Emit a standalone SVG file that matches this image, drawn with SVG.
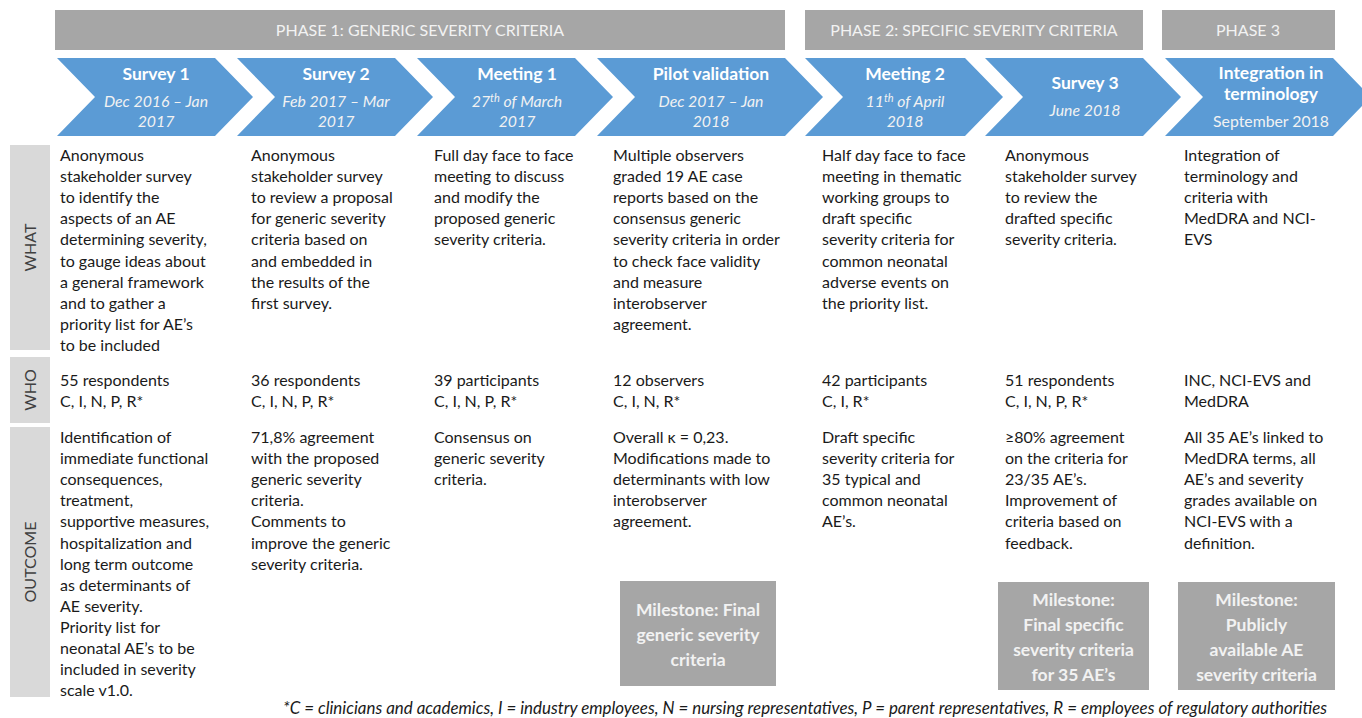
<svg xmlns="http://www.w3.org/2000/svg" width="1362" height="718" viewBox="0 0 1362 718">
<style>
.phase{fill:#a6a6a6}
.phtxt{font-family:Lato,"Open Sans",sans-serif;font-size:16px;fill:#f2f2f2;text-anchor:middle}
.chev{fill:#5b9bd5}
.ct{font-family:Lato,"Open Sans",sans-serif;font-size:17.5px;font-weight:bold;fill:#ffffff;text-anchor:middle}
.cd{font-family:Lato,"Open Sans",sans-serif;font-size:15.8px;font-style:italic;fill:#f2f2f2;text-anchor:middle}
.cdn{font-family:Lato,"Open Sans",sans-serif;font-size:15.8px;fill:#f2f2f2;text-anchor:middle}
.lab{fill:#d9d9d9}
.labt{font-family:Lato,"Open Sans",sans-serif;font-size:16px;fill:#404040;text-anchor:middle}
.body{font-family:Lato,"Open Sans",sans-serif;font-size:16px;fill:#1a1a1a}
.ms{fill:#a6a6a6}
.mst{font-family:Lato,"Open Sans",sans-serif;font-size:17.5px;font-weight:bold;fill:#f2f2f2;text-anchor:middle}
.foot{font-family:Lato,"Open Sans",sans-serif;font-size:16.5px;font-style:italic;fill:#1a1a1a}
</style>
<rect width="1362" height="718" fill="#ffffff"/>

<g id="phases">
<g id="phase1"><rect class="phase" x="55" y="10" width="730" height="40"/><text class="phtxt" x="420" y="36">PHASE 1: GENERIC SEVERITY CRITERIA</text></g>
<g id="phase2"><rect class="phase" x="805" y="10" width="338" height="40"/><text class="phtxt" x="974" y="36">PHASE 2: SPECIFIC SEVERITY CRITERIA</text></g>
<g id="phase3"><rect class="phase" x="1162" y="10" width="173" height="40"/><text class="phtxt" x="1248" y="36">PHASE 3</text></g>
</g>

<g id="connectors"></g>

<g id="step1">
<polygon class="chev" points="57,58 215,58 253,97 215,136 57,136 95,97"/>
<text class="ct" x="156" y="80">Survey 1</text>
<text class="cd" x="156" y="107">Dec 2016 – Jan</text>
<text class="cd" x="156" y="127">2017</text>
</g>
<g id="step2">
<polygon class="chev" points="237,58 395,58 433,97 395,136 237,136 275,97"/>
<text class="ct" x="336" y="80">Survey 2</text>
<text class="cd" x="336" y="107">Feb 2017 – Mar</text>
<text class="cd" x="336" y="127">2017</text>
</g>
<g id="step3">
<polygon class="chev" points="417,58 575,58 613,97 575,136 417,136 455,97"/>
<text class="ct" x="517" y="80">Meeting 1</text>
<text class="cd" x="517" y="107">27<tspan font-size="11" dy="-5">th</tspan><tspan dy="5"> of March</tspan></text>
<text class="cd" x="517" y="127">2017</text>
</g>
<g id="step4">
<polygon class="chev" points="597,58 785,58 823,97 785,136 597,136 635,97"/>
<text class="ct" x="711" y="80">Pilot validation</text>
<text class="cd" x="711" y="107">Dec 2017 – Jan</text>
<text class="cd" x="711" y="127">2018</text>
</g>
<g id="step5">
<polygon class="chev" points="805,58 965,58 1003,97 965,136 805,136 843,97"/>
<text class="ct" x="905" y="80">Meeting 2</text>
<text class="cd" x="905" y="107">11<tspan font-size="11" dy="-5">th</tspan><tspan dy="5"> of April</tspan></text>
<text class="cd" x="905" y="127">2018</text>
</g>
<g id="step6">
<polygon class="chev" points="985,58 1143,58 1181,97 1143,136 985,136 1023,97"/>
<text class="ct" x="1085" y="89">Survey 3</text>
<text class="cd" x="1085" y="116">June 2018</text>
</g>
<g id="step7">
<polygon class="chev" points="1165,58 1333,58 1362,88 1362,106 1333,136 1165,136 1203,97"/>
<text class="ct" x="1271" y="79">Integration in</text>
<text class="ct" x="1271" y="100">terminology</text>
<text class="cdn" x="1271" y="127">September 2018</text>
</g>

<g id="labels">
<g id="label-what"><rect class="lab" x="10" y="145" width="40" height="205"/><text class="labt" transform="translate(36,247.5) rotate(-90)">WHAT</text></g>
<g id="label-who"><rect class="lab" x="10" y="357" width="40" height="66"/><text class="labt" transform="translate(36,390) rotate(-90)">WHO</text></g>
<g id="label-outcome"><rect class="lab" x="10" y="427" width="40" height="270"/><text class="labt" transform="translate(36,562) rotate(-90)">OUTCOME</text></g>
</g>

<g id="col1">
<text class="body" x="60" y="161"><tspan x="60" dy="0">Anonymous</tspan><tspan x="60" dy="21.1">stakeholder survey</tspan><tspan x="60" dy="21.1">to identify the</tspan><tspan x="60" dy="21.1">aspects of an AE</tspan><tspan x="60" dy="21.1">determining severity,</tspan><tspan x="60" dy="21.1">to gauge ideas about</tspan><tspan x="60" dy="21.1">a general framework</tspan><tspan x="60" dy="21.1">and to gather a</tspan><tspan x="60" dy="21.1">priority list for AE’s</tspan><tspan x="60" dy="21.1">to be included</tspan></text>
<text class="body" x="60" y="386"><tspan x="60" dy="0">55 respondents</tspan><tspan x="60" dy="21.1">C, I, N, P, R*</tspan></text>
<text class="body" x="60" y="443"><tspan x="60" dy="0">Identification of</tspan><tspan x="60" dy="21.1">immediate functional</tspan><tspan x="60" dy="21.1">consequences,</tspan><tspan x="60" dy="21.1">treatment,</tspan><tspan x="60" dy="21.1">supportive measures,</tspan><tspan x="60" dy="21.1">hospitalization and</tspan><tspan x="60" dy="21.1">long term outcome</tspan><tspan x="60" dy="21.1">as determinants of</tspan><tspan x="60" dy="21.1">AE severity.</tspan><tspan x="60" dy="21.1">Priority list for</tspan><tspan x="60" dy="21.1">neonatal AE’s to be</tspan><tspan x="60" dy="21.1">included in severity</tspan><tspan x="60" dy="21.1">scale v1.0.</tspan></text>
</g>

<g id="col2">
<text class="body" x="251" y="161"><tspan x="251" dy="0">Anonymous</tspan><tspan x="251" dy="21.1">stakeholder survey</tspan><tspan x="251" dy="21.1">to review a proposal</tspan><tspan x="251" dy="21.1">for generic severity</tspan><tspan x="251" dy="21.1">criteria based on</tspan><tspan x="251" dy="21.1">and embedded in</tspan><tspan x="251" dy="21.1">the results of the</tspan><tspan x="251" dy="21.1">first survey.</tspan></text>
<text class="body" x="251" y="386"><tspan x="251" dy="0">36 respondents</tspan><tspan x="251" dy="21.1">C, I, N, P, R*</tspan></text>
<text class="body" x="251" y="443"><tspan x="251" dy="0">71,8% agreement</tspan><tspan x="251" dy="21.1">with the proposed</tspan><tspan x="251" dy="21.1">generic severity</tspan><tspan x="251" dy="21.1">criteria.</tspan><tspan x="251" dy="21.1">Comments to</tspan><tspan x="251" dy="21.1">improve the generic</tspan><tspan x="251" dy="21.1">severity criteria.</tspan></text>
</g>

<g id="col3">
<text class="body" x="434" y="161"><tspan x="434" dy="0">Full day face to face</tspan><tspan x="434" dy="21.1">meeting to discuss</tspan><tspan x="434" dy="21.1">and modify the</tspan><tspan x="434" dy="21.1">proposed generic</tspan><tspan x="434" dy="21.1">severity criteria.</tspan></text>
<text class="body" x="434" y="386"><tspan x="434" dy="0">39 participants</tspan><tspan x="434" dy="21.1">C, I, N, P, R*</tspan></text>
<text class="body" x="434" y="443"><tspan x="434" dy="0">Consensus on</tspan><tspan x="434" dy="21.1">generic severity</tspan><tspan x="434" dy="21.1">criteria.</tspan></text>
</g>

<g id="col4">
<text class="body" x="613" y="161"><tspan x="613" dy="0">Multiple observers</tspan><tspan x="613" dy="21.1">graded 19 AE case</tspan><tspan x="613" dy="21.1">reports based on the</tspan><tspan x="613" dy="21.1">consensus generic</tspan><tspan x="613" dy="21.1">severity criteria in order</tspan><tspan x="613" dy="21.1">to check face validity</tspan><tspan x="613" dy="21.1">and measure</tspan><tspan x="613" dy="21.1">interobserver</tspan><tspan x="613" dy="21.1">agreement.</tspan></text>
<text class="body" x="613" y="386"><tspan x="613" dy="0">12 observers</tspan><tspan x="613" dy="21.1">C, I, N, R*</tspan></text>
<text class="body" x="613" y="443"><tspan x="613" dy="0">Overall κ = 0,23.</tspan><tspan x="613" dy="21.1">Modifications made to</tspan><tspan x="613" dy="21.1">determinants with low</tspan><tspan x="613" dy="21.1">interobserver</tspan><tspan x="613" dy="21.1">agreement.</tspan></text>
</g>

<g id="col5">
<text class="body" x="822" y="161"><tspan x="822" dy="0">Half day face to face</tspan><tspan x="822" dy="21.1">meeting in thematic</tspan><tspan x="822" dy="21.1">working groups to</tspan><tspan x="822" dy="21.1">draft specific</tspan><tspan x="822" dy="21.1">severity criteria for</tspan><tspan x="822" dy="21.1">common neonatal</tspan><tspan x="822" dy="21.1">adverse events on</tspan><tspan x="822" dy="21.1">the priority list.</tspan></text>
<text class="body" x="822" y="386"><tspan x="822" dy="0">42 participants</tspan><tspan x="822" dy="21.1">C, I, R*</tspan></text>
<text class="body" x="822" y="443"><tspan x="822" dy="0">Draft specific</tspan><tspan x="822" dy="21.1">severity criteria for</tspan><tspan x="822" dy="21.1">35 typical and</tspan><tspan x="822" dy="21.1">common neonatal</tspan><tspan x="822" dy="21.1">AE’s.</tspan></text>
</g>

<g id="col6">
<text class="body" x="1005" y="161"><tspan x="1005" dy="0">Anonymous</tspan><tspan x="1005" dy="21.1">stakeholder survey</tspan><tspan x="1005" dy="21.1">to review the</tspan><tspan x="1005" dy="21.1">drafted specific</tspan><tspan x="1005" dy="21.1">severity criteria.</tspan></text>
<text class="body" x="1005" y="386"><tspan x="1005" dy="0">51 respondents</tspan><tspan x="1005" dy="21.1">C, I, N, P, R*</tspan></text>
<text class="body" x="1005" y="443"><tspan x="1005" dy="0">≥80% agreement</tspan><tspan x="1005" dy="21.1">on the criteria for</tspan><tspan x="1005" dy="21.1">23/35 AE’s.</tspan><tspan x="1005" dy="21.1">Improvement of</tspan><tspan x="1005" dy="21.1">criteria based on</tspan><tspan x="1005" dy="21.1">feedback.</tspan></text>
</g>

<g id="col7">
<text class="body" x="1184" y="161"><tspan x="1184" dy="0">Integration of</tspan><tspan x="1184" dy="21.1">terminology and</tspan><tspan x="1184" dy="21.1">criteria with</tspan><tspan x="1184" dy="21.1">MedDRA and NCI-</tspan><tspan x="1184" dy="21.1">EVS</tspan></text>
<text class="body" x="1184" y="386"><tspan x="1184" dy="0">INC, NCI-EVS and</tspan><tspan x="1184" dy="21.1">MedDRA</tspan></text>
<text class="body" x="1184" y="443"><tspan x="1184" dy="0">All 35 AE’s linked to</tspan><tspan x="1184" dy="21.1">MedDRA terms, all</tspan><tspan x="1184" dy="21.1">AE’s and severity</tspan><tspan x="1184" dy="21.1">grades available on</tspan><tspan x="1184" dy="21.1">NCI-EVS with a</tspan><tspan x="1184" dy="21.1">definition.</tspan></text>
</g>

<g id="milestone1">
<rect class="ms" x="620" y="581" width="156" height="105"/>
<text class="mst" x="698" y="616">Milestone: Final</text>
<text class="mst" x="698" y="641">generic severity</text>
<text class="mst" x="698" y="666">criteria</text>
</g>
<g id="milestone2">
<rect class="ms" x="998" y="582" width="151" height="108"/>
<text class="mst" x="1073.5" y="606">Milestone:</text>
<text class="mst" x="1073.5" y="631">Final specific</text>
<text class="mst" x="1073.5" y="656">severity criteria</text>
<text class="mst" x="1073.5" y="681">for 35 AE’s</text>
</g>
<g id="milestone3">
<rect class="ms" x="1178" y="582" width="157" height="108"/>
<text class="mst" x="1256.5" y="606">Milestone:</text>
<text class="mst" x="1256.5" y="631">Publicly</text>
<text class="mst" x="1256.5" y="656">available AE</text>
<text class="mst" x="1256.5" y="681">severity criteria</text>
</g>

<text class="foot" x="283" y="714" textLength="1044" lengthAdjust="spacingAndGlyphs">*C = clinicians and academics, I = industry employees, N = nursing representatives, P = parent representatives, R = employees of regulatory authorities</text>
</svg>
